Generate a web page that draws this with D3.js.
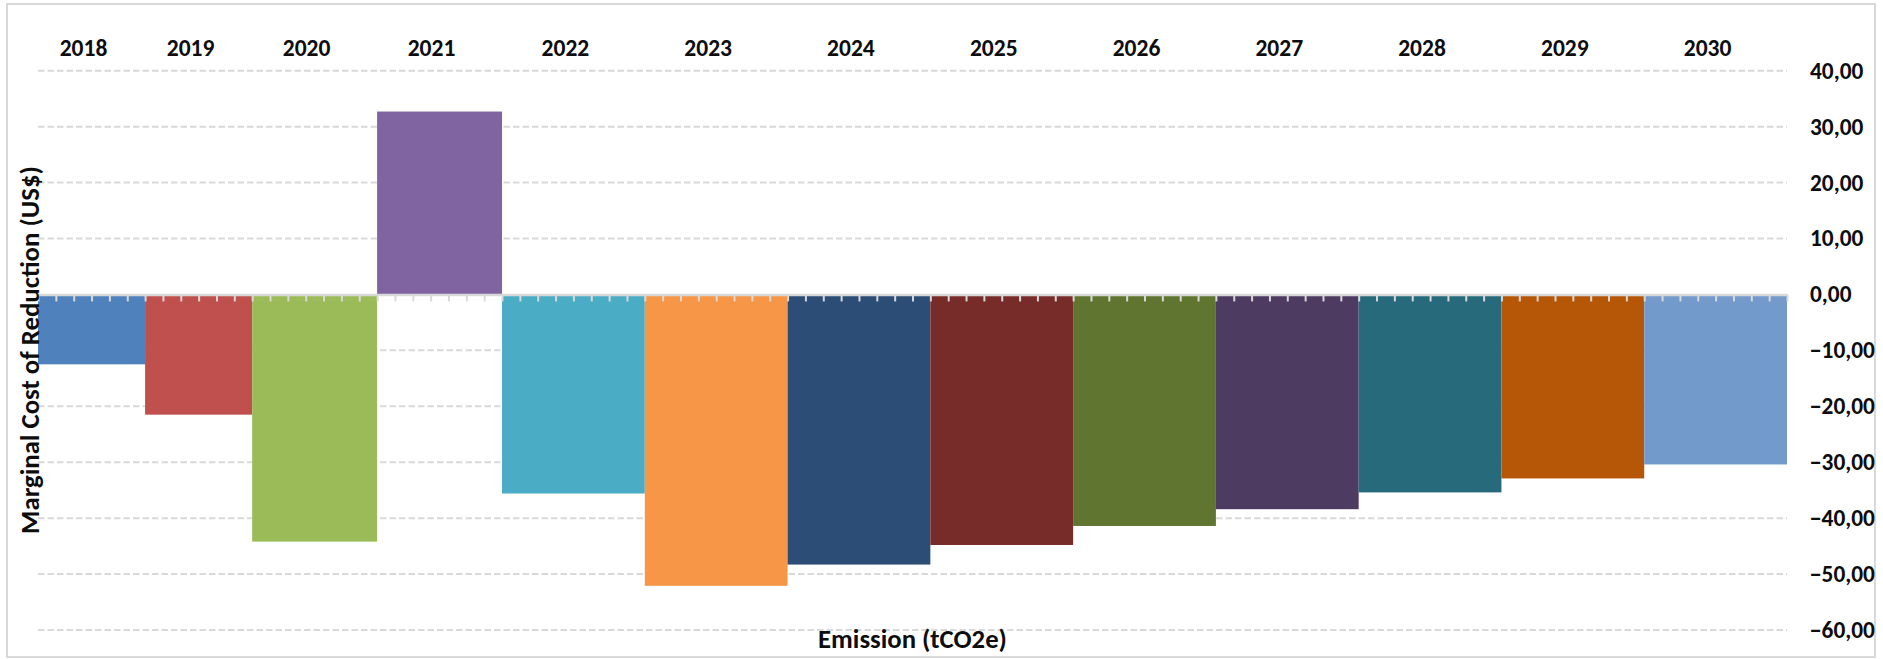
<!DOCTYPE html>
<html>
<head>
<meta charset="utf-8">
<script src="https://cdn.jsdelivr.net/npm/d3@7"></script>
<style>
  html, body { margin: 0; padding: 0; background: #fff; }
  svg { display: block; }
  text { font-family: Carlito, Calibri, Lato, "Open Sans", sans-serif; font-weight: bold; fill: #0d0d0d; }
</style>
</head>
<body>
<svg id="chart" width="1883" height="659"></svg>
<script>
// ---- data ----
const years = ["2018","2019","2020","2021","2022","2023","2024","2025","2026","2027","2028","2029","2030"];
const costs = [-12.5, -21.5, -44.2, 32.7, -35.6, -52.1, -48.3, -44.8, -41.4, -38.4, -35.4, -32.9, -30.4];
const reductions = [6, 6, 7, 7, 8, 8, 8, 8, 8, 8, 8, 8, 8];
const yTickValues = [40, 30, 20, 10, 0, -10, -20, -30, -40, -50, -60];
const colors = ["#4F81BD","#C0504D","#9BBB59","#8064A2","#4BACC6","#F79646","#2C4D75","#772C2A","#5F7530","#4D3B62","#276A7C","#B65708","#729ACA"];

// ---- layout ----
const plot = { left: 38, right: 1787, top: 70.7, bottom: 630 };

const svg = d3.select("#chart");

// outer border
svg.append("rect")
  .attr("x", 7).attr("y", 4).attr("width", 1868).attr("height", 653)
  .attr("fill", "#fff").attr("stroke", "#D9D9D9").attr("stroke-width", 2);

let cum = 0;
const bars = years.map((y, i) => {
  const d = { year: y, cost: costs[i], start: cum, end: cum + reductions[i], color: colors[i] };
  cum += reductions[i];
  return d;
});
const total = cum;

const x = d3.scaleLinear().domain([0, total]).range([plot.left, plot.right]);
const y = d3.scaleLinear().domain([-60, 40]).range([plot.bottom, plot.top]);

// font size helper: size such that a sample string gets the target width
function sizeFor(sample, target, base) {
  const t = svg.append("text").style("font-size", base + "px").text(sample);
  const len = t.node().getComputedTextLength();
  t.remove();
  return base * target / len;
}

// gridlines
svg.append("g")
  .selectAll("line")
  .data(yTickValues.filter(v => v !== 0))
  .join("line")
  .attr("x1", plot.left).attr("x2", plot.right)
  .attr("y1", d => y(d)).attr("y2", d => y(d))
  .attr("stroke", "#D9D9D9").attr("stroke-width", 2)
  .attr("stroke-dasharray", "6.5,3");

// bars
svg.append("g")
  .selectAll("rect")
  .data(bars)
  .join("rect")
  .attr("x", d => x(d.start))
  .attr("width", d => x(d.end) - x(d.start))
  .attr("y", d => y(Math.max(0, d.cost)))
  .attr("height", d => Math.abs(y(d.cost) - y(0)))
  .attr("fill", d => d.color);

// zero axis with ticks
const xAxis = d3.axisBottom(x)
  .tickValues(d3.range(0, total + 1))
  .tickSize(7)
  .tickSizeOuter(0)
  .tickFormat("");
const gx = svg.append("g").attr("transform", `translate(0,${y(0)})`).call(xAxis);
gx.select(".domain").attr("stroke", "#D9D9D9").attr("stroke-width", 2.5);
gx.selectAll(".tick line").attr("stroke", "#D9D9D9").attr("stroke-width", 2);

// y axis on right
const fmt = d => d3.format(".2f")(d).replace(".", ",");
const tickSize = sizeFor("40,00", 53.3, 20);
const yAxis = d3.axisRight(y)
  .tickValues(yTickValues)
  .tickSize(0)
  .tickPadding(23)
  .tickFormat(fmt);
const gy = svg.append("g").attr("transform", `translate(${plot.right},0)`).call(yAxis);
gy.select(".domain").remove();
gy.selectAll("text")
  .style("font-family", "Carlito, Calibri, Lato, 'Open Sans', sans-serif")
  .style("font-weight", "bold")
  .style("font-size", tickSize.toFixed(2) + "px")
  .attr("fill", "#0d0d0d")
  .attr("text-anchor", "start");

// year labels on top
const yearSize = sizeFor("2018", 47.7, 20);
svg.append("g")
  .selectAll("text")
  .data(bars)
  .join("text")
  .attr("x", d => x((d.start + d.end) / 2) - 8)
  .attr("y", 48)
  .attr("dy", "0.35em")
  .attr("text-anchor", "middle")
  .style("font-size", yearSize.toFixed(2) + "px")
  .text(d => d.year);

// axis titles, sized to match reference lengths
const yTitle = svg.append("text")
  .attr("transform", "translate(30,350) rotate(-90)")
  .attr("text-anchor", "middle")
  .attr("dy", "0.35em")
  .style("font-size", sizeFor("Marginal Cost of Reduction (US$)", 368, 20).toFixed(2) + "px")
  .text("Marginal Cost of Reduction (US$)");

const xTitle = svg.append("text")
  .attr("x", (plot.left + plot.right) / 2)
  .attr("y", 639)
  .attr("dy", "0.35em")
  .attr("text-anchor", "middle")
  .style("font-size", sizeFor("Emission (tCO2e)", 189, 20).toFixed(2) + "px")
  .text("Emission (tCO2e)");
</script>
</body>
</html>
